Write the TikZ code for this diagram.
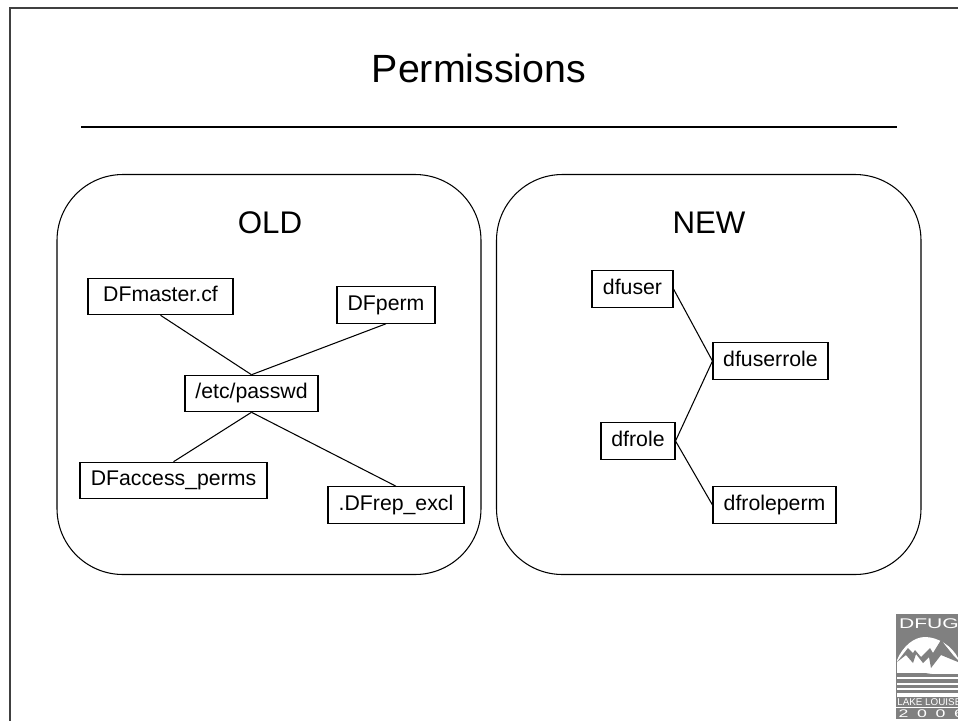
\documentclass[tikz,border=0pt]{standalone}
\usepackage{fontspec}
\setmainfont{Liberation Sans}
\definecolor{logogray}{gray}{0.5}
\definecolor{framegray}{gray}{0.25}
\tikzset{
  panel/.style={draw=black, line width=0.6pt, rounded corners=1.32cm},
  filebox/.style={draw=black, line width=0.6pt, inner sep=0pt, minimum height=0.73cm,
    text height=8.8pt, text depth=2.6pt, font=\fontsize{12.1}{14}\selectfont},
  panellabel/.style={anchor=base, font=\fontsize{17.8}{20}\selectfont},
  link/.style={draw=black, line width=0.6pt}
}

\begin{document}
\begin{tikzpicture}[x=0.02cm, y=-0.02cm]
  \useasboundingbox (0,0) rectangle (958,721);

  % Slide frame and title
  \draw[framegray, line width=0.6pt] (10,721) -- (10,8) -- (958,8);
  \node[anchor=base, font=\fontsize{22.4}{26}\selectfont] (title) at (479,82) {Permissions};
  \draw[black, line width=0.6pt] (81,127) -- (897,127);

  % The two panels
  \draw[panel] (57,174.5) rectangle (481,574.5);
  \draw[panel] (496.5,174.5) rectangle (921,574.5);
  \node[panellabel] (oldlabel) at (270,233) {OLD};
  \node[panellabel] (newlabel) at (709,233) {NEW};

  % Old files
  \node[filebox, minimum width=2.9cm] (dfmaster) at (160.5,296.5) {DFmaster.cf};
  \node[filebox, minimum width=1.96cm] (dfperm) at (386,305) {DFperm};
  \node[filebox, minimum width=2.66cm] (passwd) at (251.5,393.5) {/etc/passwd};
  \node[filebox, minimum width=3.74cm] (dfaccess) at (173.5,480.5) {DFaccess\_perms};
  \node[filebox, minimum width=2.72cm] (dfrep) at (396,505) {.DFrep\_excl};

  \draw[link] (dfmaster.south) -- (passwd.north);
  \draw[link] (dfperm.south) -- (passwd.north);
  \draw[link] (dfaccess.north) -- (passwd.south);
  \draw[link] (dfrep.north) -- (passwd.south);

  % New tables
  \node[filebox, minimum width=1.62cm] (dfuser) at (632.5,289) {dfuser};
  \node[filebox, minimum width=2.3cm] (dfuserrole) at (770.5,361) {dfuserrole};
  \node[filebox, minimum width=1.48cm] (dfrole) at (638,441) {dfrole};
  \node[filebox, minimum width=2.46cm] (dfroleperm) at (774.5,505) {dfroleperm};

  \draw[link] (dfuser.east) -- (dfuserrole.west);
  \draw[link] (dfrole.east) -- (dfuserrole.west);
  \draw[link] (dfrole.east) -- (dfroleperm.west);

  % Logo in the corner
  \begin{scope}
    \clip (896,614) rectangle (958,719);
    \fill[logogray] (896,614) rectangle (958,719);
    % dome
    \fill[white] (897,672) -- (897,660) .. controls (903,646) and (914,637) .. (925,637)
      .. controls (938,637) and (952,646) .. (958,658) -- (958,672) -- cycle;
    % mountains
    \fill[logogray] (897,662) -- (908,648) -- (913,653) -- (915,650) -- (921,657) -- (930,648)
      -- (933,653) -- (941,640) -- (953,655) -- (958,660) -- (958,662) -- (941,655) -- (931,668)
      -- (929,657) -- (923,663) -- (916,654) -- (913,663) -- (906,655) -- cycle;
    % stripes
    \fill[white] (897,672) rectangle (958,674);
    \fill[logogray] (897,673) -- (925,673) -- (945,676) -- (897,677) -- cycle;
    \fill[white] (897,677) rectangle (958,679);
    \fill[white] (897,683) rectangle (958,685);
    \fill[white] (897,688) rectangle (958,690);
    \fill[white] (897,693) rectangle (958,697);
    \fill[white] (896,707) rectangle (958,708);
    \node[white, anchor=base west, inner sep=0pt, xscale=1.5, transform shape,
      font=\fontsize{8}{9}\selectfont] (logotitle) at (898.5,628) {DFUG};
    \node[white, anchor=base west, inner sep=0pt,
      font=\fontsize{5.6}{6}\selectfont] (logoplace) at (897,705) {LAKE LOUISE};
    \node[white, anchor=base west, inner sep=0pt, xscale=1.6, transform shape,
      font=\fontsize{6.3}{7}\selectfont] (logoyear) at (898,717) {\spaceskip=3.1pt 2 0 0 6};
  \end{scope}
\end{tikzpicture}
\end{document}
